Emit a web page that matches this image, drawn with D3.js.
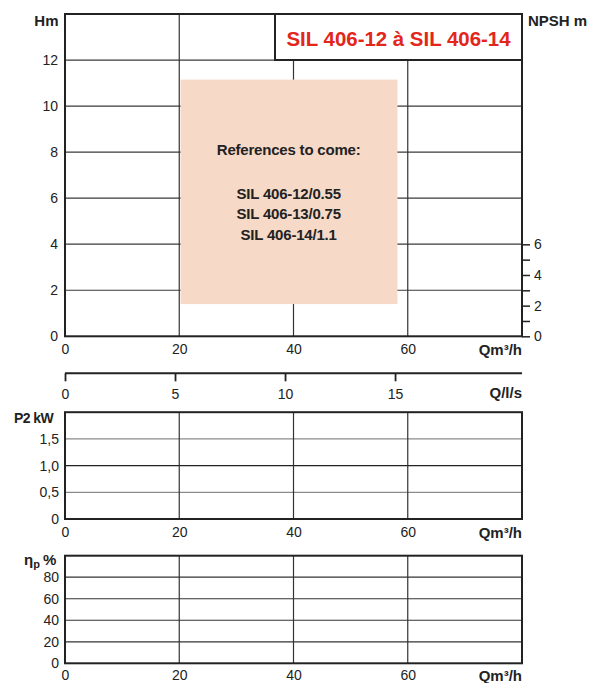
<!DOCTYPE html>
<html><head><meta charset="utf-8">
<script src="https://cdn.jsdelivr.net/npm/d3@7"></script>
<style>
body{margin:0;background:#fff;}
svg{display:block;font-family:"Liberation Sans",Arial,Helvetica,sans-serif;}
</style></head>
<body><svg id="c" width="590" height="683"></svg>
<script>
// ---- data ----
const title = "SIL 406-12 à SIL 406-14";
const qDomain = [0, 80];
const qTicks = [0, 20, 40, 60];
const qGrid = [20, 40, 60];
const hDomain = [0, 14];
const hTicks = [0, 2, 4, 6, 8, 10, 12];
const npshTicks = [0, 1, 2, 3, 4, 5, 6];
const npshLabels = [0, 2, 4, 6];
const npshDomain = [0, 21];
const lsDomain = [0, 20.77];
const lsTicks = [0, 5, 10, 15];
const p2Domain = [0, 2];
const p2Ticks = [0, 0.5, 1.0, 1.5];
const etaDomain = [0, 100];
const etaTicks = [0, 20, 40, 60, 80];
const noteQ = [20.1, 58.2];
const noteH = [1.4, 11.15];
const noteLines = ["References to come:", "", "SIL 406-12/0.55", "SIL 406-13/0.75", "SIL 406-14/1.1"];

const svg = d3.select("#c");
const L = 65, R = 522;
const x = d3.scaleLinear().domain(qDomain).range([L, R]);
const INK = "#222";

function frame(g, top, bottom) {
  g.append("rect").attr("x", L).attr("y", top).attr("width", R - L).attr("height", bottom - top)
    .attr("fill", "none").attr("stroke", INK).attr("stroke-width", 2);
}
function vgrid(g, top, bottom) {
  g.selectAll(null).data(qGrid).join("line")
    .attr("x1", d => x(d)).attr("x2", d => x(d)).attr("y1", top).attr("y2", bottom)
    .attr("stroke", "#333").attr("stroke-width", 1.2);
}
function hgrid(g, y, ticks, colorFn) {
  g.selectAll(null).data(ticks.filter(t => t > y.domain()[0])).join("line")
    .attr("x1", L).attr("x2", R).attr("y1", d => y(d)).attr("y2", d => y(d))
    .attr("stroke", colorFn).attr("stroke-width", 1.2);
}
function styleAxis(a, size) {
  a.select(".domain").remove();
  a.selectAll("text").attr("fill", INK).style("font-size", size + "px");
  a.selectAll(".tick line").attr("stroke", INK);
}
function xAxis(g, bottom, pad) {
  const a = g.append("g").attr("transform", `translate(0,${bottom})`)
    .call(d3.axisBottom(x).tickValues(qTicks).tickSize(0).tickPadding(pad).tickFormat(d3.format("d")));
  styleAxis(a, 14);
}
function boldText(g, tx, ty, txt, anchor, size) {
  return g.append("text").attr("x", tx).attr("y", ty).attr("text-anchor", anchor || "start")
    .attr("font-weight", "bold").attr("font-size", size || 15).attr("fill", INK).text(txt);
}

// ---- top H chart ----
const T1 = 14, B1 = 336.3;
const yH = d3.scaleLinear().domain(hDomain).range([B1, T1]);
const gTop = svg.append("g");
hgrid(gTop, yH, hTicks, "#3a3a3a");
vgrid(gTop, T1, B1);
// note box
gTop.append("rect").attr("x", x(noteQ[0]) + 0.7).attr("y", yH(noteH[1]))
  .attr("width", x(noteQ[1]) - x(noteQ[0]) - 0.7).attr("height", yH(noteH[0]) - yH(noteH[1]))
  .attr("fill", "#F7D9C8");
const cx = (x(noteQ[0]) + x(noteQ[1])) / 2;
const nt = gTop.append("g");
const lineY = [155, null, 198.5, 219, 239.5];
noteLines.forEach((t, i) => { if (t) boldText(nt, cx, lineY[i], t, "middle", 15).attr("letter-spacing", -0.2); });
frame(gTop, T1, B1);
// title box
gTop.append("rect").attr("x", 275).attr("y", T1).attr("width", R - 275).attr("height", 46)
  .attr("fill", "#fff").attr("stroke", INK).attr("stroke-width", 2);
gTop.append("text").attr("x", 398.5).attr("y", 45.5).attr("text-anchor", "middle")
  .attr("font-weight", "bold").attr("font-size", 21).attr("fill", "#E3261B")
  .attr("textLength", 224).attr("lengthAdjust", "spacingAndGlyphs").text(title);
// axes
const aH = gTop.append("g").attr("transform", `translate(${L},0)`)
  .call(d3.axisLeft(yH).tickValues(hTicks).tickSize(0).tickPadding(7).tickFormat(d3.format("d")));
styleAxis(aH, 14);
xAxis(gTop, B1, 8);
boldText(gTop, 58.5, 26, "Hm", "end");
boldText(gTop, 528, 26, "NPSH m", "start");
boldText(gTop, R, 355, "Qm³/h", "end");
const yN = d3.scaleLinear().domain(npshDomain).range([B1, B1 - 21 * 15.33]);
const aN = gTop.append("g").attr("transform", `translate(${R},0)`)
  .call(d3.axisRight(yN).tickValues(npshTicks).tickSize(8).tickPadding(4)
    .tickFormat(d => npshLabels.includes(d) ? d : ""));
styleAxis(aN, 14);
aN.selectAll(".tick line").attr("stroke-width", 1.5);

// ---- l/s axis ----
const yLS = 373.3;
const xLS = d3.scaleLinear().domain(lsDomain).range([L, R]);
const gLS = svg.append("g");
gLS.append("line").attr("x1", L).attr("x2", R).attr("y1", yLS).attr("y2", yLS).attr("stroke", INK).attr("stroke-width", 2);
const aLS = gLS.append("g").attr("transform", `translate(0,${yLS})`)
  .call(d3.axisBottom(xLS).tickValues(lsTicks).tickSize(8).tickPadding(8).tickFormat(d3.format("d")));
styleAxis(aLS, 14);
aLS.selectAll(".tick line").attr("stroke-width", 1.8);
boldText(gLS, R, 398, "Q/l/s", "end");

// ---- P2 panel ----
const T2 = 412.2, B2 = 519;
const yP = d3.scaleLinear().domain(p2Domain).range([B2, T2]);
const gP = svg.append("g");
hgrid(gP, yP, p2Ticks, d => d === 1 ? "#222" : "#8a8a8a");
vgrid(gP, T2, B2);
frame(gP, T2, B2);
const aP = gP.append("g").attr("transform", `translate(${L},0)`)
  .call(d3.axisLeft(yP).tickValues(p2Ticks).tickSize(0).tickPadding(6)
    .tickFormat(d => d === 0 ? "0" : d3.format(".1f")(d).replace(".", ",")));
styleAxis(aP, 14);
xAxis(gP, B2, 8.5);
boldText(gP, 14, 423, "P2 kW", "start", 14).attr("letter-spacing", -0.6);
boldText(gP, R, 537.5, "Qm³/h", "end");

// ---- eta panel ----
const T3 = 555.7, B3 = 663.3;
const yE = d3.scaleLinear().domain(etaDomain).range([B3, T3]);
const gE = svg.append("g");
hgrid(gE, yE, etaTicks, "#333");
vgrid(gE, T3, B3);
frame(gE, T3, B3);
const aE = gE.append("g").attr("transform", `translate(${L},0)`)
  .call(d3.axisLeft(yE).tickValues(etaTicks).tickSize(0).tickPadding(6).tickFormat(d3.format("d")));
styleAxis(aE, 14);
xAxis(gE, B3, 7);
const eta = gE.append("text").attr("x", 24).attr("y", 565).attr("font-weight", "bold").attr("font-size", 15).attr("fill", INK);
eta.append("tspan").text("η");
eta.append("tspan").attr("dy", 3).attr("font-size", 11).text("p");
eta.append("tspan").attr("dy", -3).attr("dx", 3).text("%");
boldText(gE, R, 681, "Qm³/h", "end");
</script></body></html>
